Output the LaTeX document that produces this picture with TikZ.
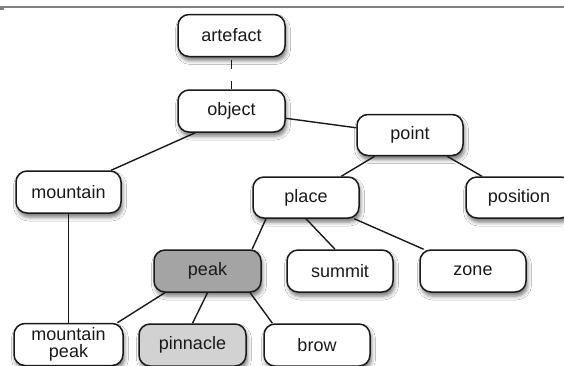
\documentclass[tikz,border=0pt]{standalone}
\usepackage{fontspec}
\setmainfont{Liberation Sans}
\usetikzlibrary{shadows.blur}
\definecolor{peakgray}{HTML}{A4A4A4}
\definecolor{pinngray}{HTML}{D2D2D2}
\definecolor{inkc}{HTML}{1A1A1A}
\begin{document}
\begin{tikzpicture}[x=1pt,y=-1pt,
  box/.style={draw=inkc, line width=1.5pt, rounded corners=11pt, fill=white,
    minimum width=106pt, minimum height=42pt, inner sep=2pt, align=center,
    text=inkc, font=\fontsize{18}{17}\selectfont,
    blur shadow={shadow xshift=1.5pt, shadow yshift=-4pt, shadow blur radius=4pt, shadow opacity=55}},
  link/.style={draw=inkc, line width=1.4pt}]
\useasboundingbox (0,0) rectangle (564,365);
\fill[white] (0,0) rectangle (564,365);
\draw[gray, line width=1.5pt] (0,7) -- (564,7);
\fill[gray] (0,7) rectangle (4,9.5);

\node[box, minimum width=107pt] (artefact) at (231.5,35.5) {artefact};
\node[box, minimum width=107pt] (object) at (231.5,111) {object};
\node[box, minimum height=41pt] (point) at (410,135) {point};
\node[box, minimum width=105pt] (mountain) at (68.5,192) {mountain};
\node[box, minimum height=41pt] (place) at (306,197.5) {place};
\node[box, minimum height=41pt] (position) at (519,197.5) {position};
\node[box, minimum width=107pt, fill=peakgray] (peak) at (207.5,271) {peak};
\node[box] (summit) at (340,271) {summit};
\node[box] (zone) at (473,271) {zone};
\node[box, minimum width=109pt] (mpeak) at (68.5,344.5) {mountain\\peak};
\node[box, minimum width=107pt, fill=pinngray] (pinnacle) at (192.5,345) {pinnacle};
\node[box] (brow) at (317,345) {brow};

\draw[link, dash pattern=on 0pt off 2.5pt on 9pt off 12pt on 10pt off 10pt] (artefact.south) -- (object.north);
\draw[link] (object) -- (point);
\draw[link] (object.-149) -- (mountain.27);
\draw[link] (point) -- (place);
\draw[link] (point) -- (position);
\draw[link] (place.-152) -- (peak.26);
\draw[link] (place.south) -- (summit.103);
\draw[link] (place) -- (zone);
\draw[link] (mountain) -- (mpeak);
\draw[link] (peak.-153) -- (mpeak.24);
\draw[link] (peak.south) -- (pinnacle.north);
\draw[link] (peak.-27) -- (brow.154);
\end{tikzpicture}
\end{document}
